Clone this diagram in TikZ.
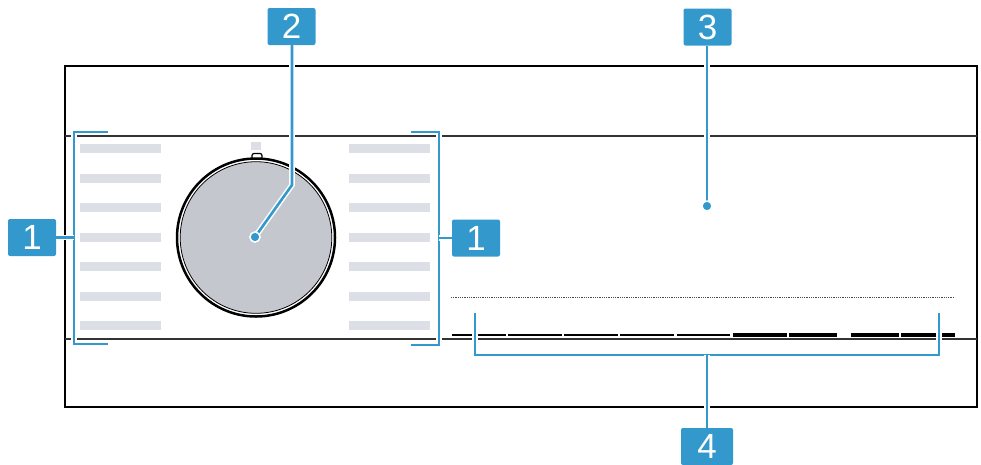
\documentclass[tikz,border=0pt]{standalone}
\usepackage{fontspec}
\setsansfont{Liberation Sans}
\definecolor{callout}{RGB}{51,153,204}
\definecolor{barcol}{RGB}{220,223,230}
\definecolor{dialgrey}{RGB}{196,200,206}
\tikzset{
  labelbox/.style={fill=callout, text=white, rounded corners=2pt, minimum width=48pt, minimum height=37pt, inner sep=0pt, font=\fontsize{35}{35}\selectfont\sffamily},
  lead/.style={draw=callout, line width=2.6pt, preaction={draw=white, line width=5.6pt}},
  dotend/.style={circle, fill=callout, draw=white, line width=1.4pt, minimum size=10pt, inner sep=0pt},
  thinline/.style={draw=black!80, line width=1.2pt},
  greybar/.style={fill=barcol, draw=none},
  dashseg/.style={draw=black, line width=2.5pt},
  dashthick/.style={draw=black, line width=3.2pt}
}
\begin{document}
\begin{tikzpicture}[x=1pt,y=-1pt]
\useasboundingbox (0,0) rectangle (981,464);
% frame and lines
\draw[line width=2.5pt] (65,66) rectangle (977,407);
\draw[thinline] (65,136) -- (977,136);
\draw[thinline] (65,339) -- (977,339);
% grey bars
\foreach \y in {148,178,207,237,266,296,325} {
  \fill[greybar] (80,\y-4.5) rectangle (161,\y+4.5);
  \fill[greybar] (349,\y-4.5) rectangle (430,\y+4.5);
}
\fill[greybar] (251,142) rectangle (261,150);
% dial
\draw[line width=1.2pt, fill=white, rounded corners=2pt] (252,162) -- (252,153.5) -- (262,153.5) -- (262,162);
\draw[line width=2.5pt, fill=white] (256,237.5) circle (79);
\draw[line width=0.8pt, fill=dialgrey] (256,237.5) circle (75.8);
% dotted and dashes
\draw[black!70, line width=0.7pt, dash pattern=on 0.9pt off 0.9pt] (451,297) -- (955,297);
\foreach \a/\b in {452/506,508/562,564/618,620/674,677/730} {
  \draw[dashseg] (\a,335) -- (\b,335);
}
\foreach \a/\b in {733/787,789/837,851/899,901/955} {
  \draw[dashthick] (\a,335) -- (\b,335);
}
% labels
\node[labelbox] (L1) at (32,237.5) {1};
\node[labelbox] (R1) at (476,238) {1};
\node[labelbox] (B2) at (291.5,26.5) {2};
\node[labelbox] (B3) at (707.5,27) {3};
\node[labelbox, minimum width=52pt] (B4) at (707,446.5) {4};
% coordinates
\coordinate (lbr) at (74,237.5);
\coordinate (rbr) at (439,238);
\coordinate (bend2) at (292,185);
\coordinate (bbr) at (707,355);
% brackets
\draw[lead] (108,132) -- (74,132) -- (74,344) -- (108,344);
\draw[lead] (411,132) -- (439,132) -- (439,345) -- (411,345);
\draw[lead] (475,313) -- (475,355) -- (939,355) -- (939,313);
% connectors
\draw[lead] (L1.east) -- (lbr);
\draw[lead] (R1.west) -- (rbr);
\node[dotend] (D2) at (255,237) {};
\node[dotend] (D3) at (707,206) {};
\draw[lead] (B2.south -| bend2) -- (bend2) -- (D2.center);
\draw[lead] (B3.south -| D3) -- (D3.center);
\node[dotend] at (D2) {};
\node[dotend] at (D3) {};
\draw[lead] (bbr) -- (B4.north);
\end{tikzpicture}
\end{document}
